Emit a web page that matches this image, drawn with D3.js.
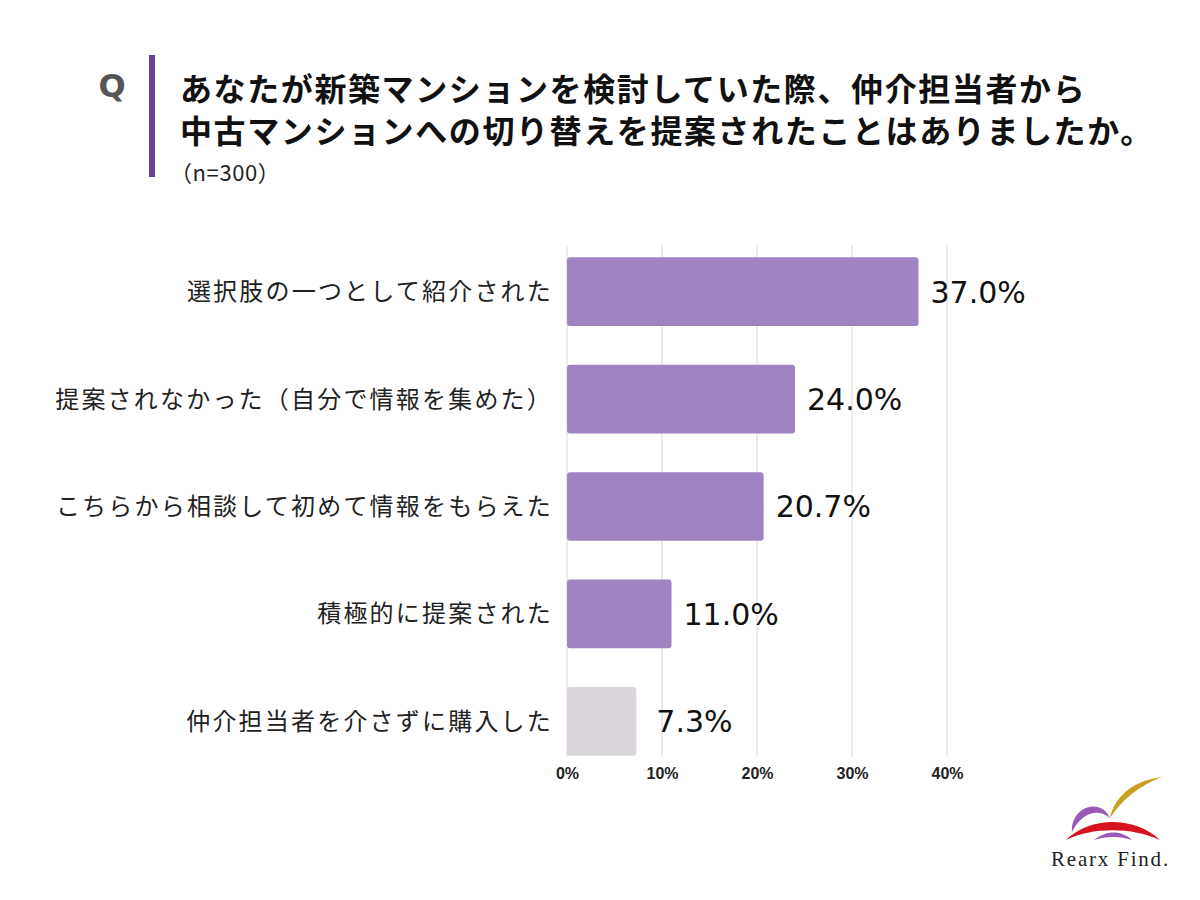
<!DOCTYPE html>
<html>
<head>
<meta charset="utf-8">
<script src="https://cdn.jsdelivr.net/npm/d3@7"></script>
<style>
  body { margin: 0; background: #fff; }
  text { font-family: "Noto Sans CJK JP", "Noto Sans", sans-serif; }
</style>
</head>
<body>
<div id="chart"></div>
<script>
var categories = ["選択肢の一つとして紹介された", "提案されなかった（自分で情報を集めた）", "こちらから相談して初めて情報をもらえた", "積極的に提案された", "仲介担当者を介さずに購入した"];
var values = [37.0, 24.0, 20.7, 11.0, 7.3];
var barColors = ["#a083c1", "#a083c1", "#a083c1", "#a083c1", "#dad6dc"];
var ticks = [0, 10, 20, 30, 40];
var titleLines = ["あなたが新築マンションを検討していた際、仲介担当者から", "中古マンションへの切り替えを提案されたことはありましたか。"];
var sampleText = "（n=300）";

var width = 1200, height = 900;
var svg = d3.select("#chart").append("svg")
  .attr("width", width)
  .attr("height", height);

// header
svg.append("text").attr("x", 112).attr("y", 97)
  .attr("text-anchor", "middle")
  .style("font-family", "DejaVu Sans, sans-serif")
  .style("font-size", "32px").style("font-weight", "bold")
  .attr("fill", "#555").text("Q");
svg.append("rect").attr("x", 149).attr("y", 55).attr("width", 6).attr("height", 122).attr("fill", "#6b3fa0");
svg.selectAll(".title").data(titleLines).enter().append("text")
  .attr("class", "title")
  .attr("x", 180).attr("y", function(d, i) { return 101 + i * 42; })
  .style("font-size", "32px").style("font-weight", "bold").style("letter-spacing", "1.6px")
  .attr("fill", "#111").text(function(d) { return d; });
svg.append("text").attr("x", 170).attr("y", 181)
  .style("font-size", "22px").style("letter-spacing", "0.6px").attr("fill", "#222").text(sampleText);

// chart
var x = d3.scaleLinear().domain([0, 40]).range([567, 947]);
var y = d3.scaleBand().domain(categories).range([238, 775]).paddingInner(0.36).paddingOuter(0.18);

svg.append("g").selectAll("line").data(ticks).enter().append("line")
  .attr("x1", function(d) { return x(d); }).attr("x2", function(d) { return x(d); })
  .attr("y1", 245).attr("y2", 757)
  .attr("stroke", "#d8d8d8").attr("stroke-width", 1);

svg.append("g").selectAll("rect").data(values).enter().append("rect")
  .attr("x", x(0))
  .attr("y", function(d, i) { return y(categories[i]); })
  .attr("width", function(d) { return x(d) - x(0); })
  .attr("height", y.bandwidth())
  .attr("rx", 3)
  .attr("fill", function(d, i) { return barColors[i]; });

svg.append("g").selectAll("text").data(categories).enter().append("text")
  .attr("x", 553)
  .attr("y", function(d) { return y(d) + y.bandwidth() / 2; })
  .attr("dy", "0.35em")
  .attr("text-anchor", "end")
  .style("font-size", "24px").style("letter-spacing", "2.2px").attr("fill", "#222")
  .text(function(d) { return d; });

svg.append("g").selectAll("text").data(values).enter().append("text")
  .attr("x", function(d, i) { return i === 4 ? x(d) + 20 : x(d) + 12; })
  .attr("y", function(d, i) { return y(categories[i]) + y.bandwidth() / 2; })
  .attr("dy", "0.36em")
  .style("font-family", "DejaVu Sans, sans-serif")
  .style("font-size", "30px").attr("fill", "#111")
  .text(function(d) { return d.toFixed(1) + "%"; });

var xAxis = svg.append("g").attr("transform", "translate(0,773)")
  .call(d3.axisBottom(x).tickValues(ticks).tickSize(0).tickFormat(function(d) { return d + "%"; }));
xAxis.select(".domain").remove();
xAxis.selectAll("text")
  .attr("dy", "0.35em").attr("y", 0)
  .style("font-family", "Liberation Sans, Arial, sans-serif")
  .style("font-size", "16px").style("font-weight", "bold").attr("fill", "#222");

// logo
var logo = svg.append("g");
logo.append("path").attr("d", "M1072,832 C1070,808 1100,796 1110,818 C1098,808 1082,812 1072,832 Z").attr("fill", "#9a5ab8");
logo.append("path").attr("d", "M1110,818 C1115,795 1135,780 1162,777 C1138,786 1122,800 1110,818 Z").attr("fill", "#c9a020");
logo.append("path").attr("d", "M1066,840 C1090,816 1135,816 1160,840 C1132,827 1092,827 1066,840 Z").attr("fill", "#d4141e");
logo.append("path").attr("d", "M1094,840 C1106,830 1122,830 1132,840 C1120,836 1106,836 1094,840 Z").attr("fill", "#9a5ab8");
logo.append("text").attr("x", 1051).attr("y", 866)
  .style("font-family", "Liberation Serif, DejaVu Serif, serif")
  .style("font-size", "21px").style("letter-spacing", "1.8px")
  .attr("fill", "#222").text("Rearx Find.");
</script>
</body>
</html>
